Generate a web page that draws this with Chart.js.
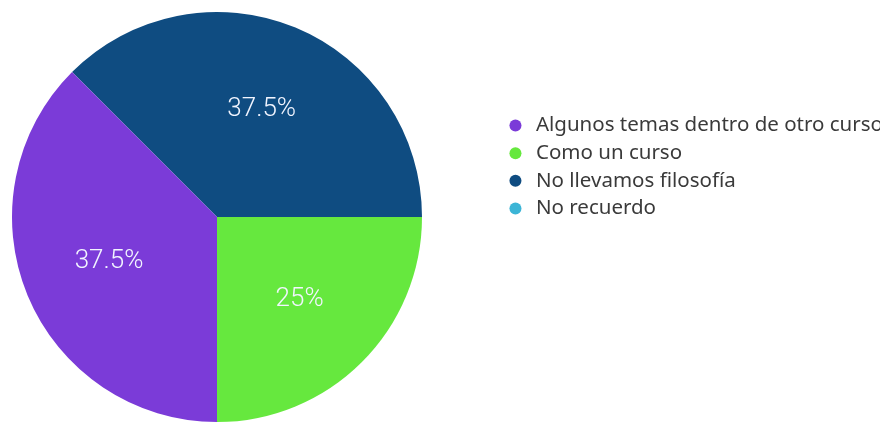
<!DOCTYPE html>
<html>
<head>
<meta charset="utf-8">
<script src="https://cdn.jsdelivr.net/npm/chart.js@4.4.1/dist/chart.umd.min.js"></script>
<style>
  html, body { margin: 0; padding: 0; background: #fff; overflow: hidden; }
  #wrap { width: 880px; height: 422px; position: relative; }
</style>
</head>
<body>
<div id="wrap"><canvas id="chart"></canvas></div>
<script>
// respuestas, en el orden de la leyenda
const categories = ["Algunos temas dentro de otro curso", "Como un curso", "No llevamos filosofía", "No recuerdo"];
const counts = [3, 2, 3, 0];
const colors = ["#7b3bd8", "#66e83e", "#0f4c81", "#3cb5d6"];

// the original runs its slices counter-clockwise, so feed them reversed
// and let the legend flip them back
const revLabels = categories.slice().reverse();
const revCounts = counts.slice().reverse();
const revColors = colors.slice().reverse();

// white percentage text inside each slice
const sliceLabels = {
    id: "sliceLabels",
    afterDatasetsDraw(chart) {
        const ctx = chart.ctx;
        const data = chart.data.datasets[0].data;
        const total = data.reduce((a, b) => a + b, 0);
        ctx.save();
        ctx.font = '300 26px Roboto, "Liberation Sans", sans-serif';
        ctx.fillStyle = "#f2f5ff";
        ctx.textAlign = "center";
        ctx.textBaseline = "middle";
        chart.getDatasetMeta(0).data.forEach((arc, i) => {
            if (!data[i]) return;
            const p = arc.getProps(["x", "y", "startAngle", "endAngle", "outerRadius"], true);
            const mid = (p.startAngle + p.endAngle) / 2;
            const r = p.outerRadius * 0.57;
            const txt = +(data[i] / total * 100).toFixed(1) + "%";
            ctx.fillText(txt, p.x + Math.cos(mid) * r, p.y + Math.sin(mid) * r);
        });
        ctx.restore();
    }
};

// legend sits a bit away from the pie and lower down; its right edge is
// opened up so the long label runs off the page like in the original
const legendShift = {
    id: "legendShift",
    afterLayout(chart) {
        const lg = chart.legend;
        lg.left += 76;
        lg.right = chart.width + 200;
        lg.width = lg.right - lg.left;
        lg.top += 96;
        lg.bottom += 96;
    }
};

new Chart(document.getElementById("chart"), {
    type: "pie",
    data: {
        labels: revLabels,
        datasets: [{
            data: revCounts,
            backgroundColor: revColors,
            borderWidth: 0,
            hoverOffset: 0
        }]
    },
    options: {
        responsive: true,
        maintainAspectRatio: false,
        animation: false,
        rotation: -45,
        // chart area ends up 12..422 x 12..422 (legend box is forced to 200 wide)
        layout: { padding: { left: 12, top: 12, right: 258, bottom: 0 } },
        plugins: {
            tooltip: { enabled: false },
            legend: {
                position: "right",
                align: "start",
                reverse: true,
                maxWidth: 200,
                labels: {
                    usePointStyle: true,
                    pointStyle: "circle",
                    boxWidth: 22,
                    boxHeight: 8.5,
                    padding: 7.2,
                    color: "#3a3a3a",
                    font: { family: "'Noto Sans', sans-serif", size: 20.5 }
                }
            }
        }
    },
    plugins: [sliceLabels, legendShift]
});
</script>
</body>
</html>
